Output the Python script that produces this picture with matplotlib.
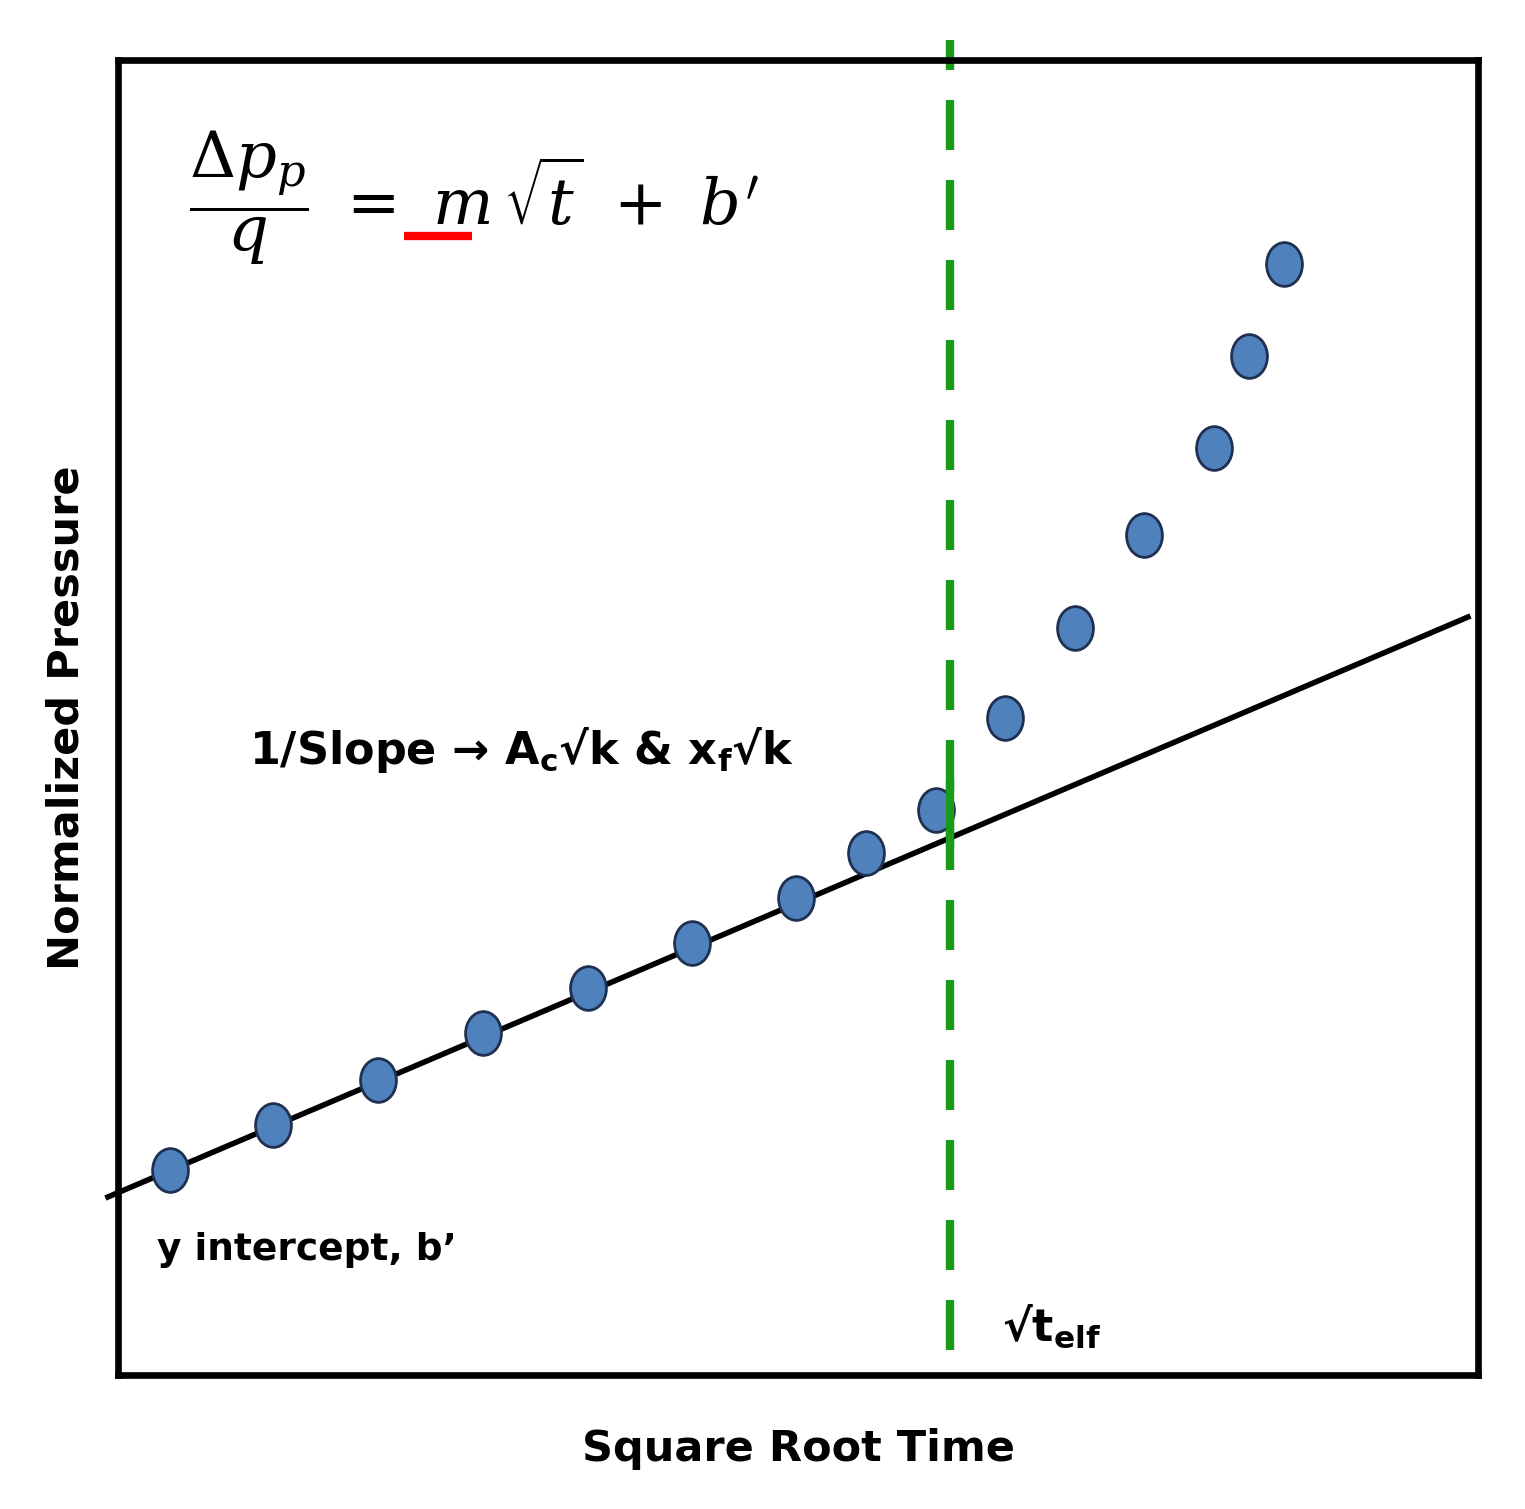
import matplotlib
matplotlib.use("Agg")
import matplotlib.pyplot as plt
from matplotlib.markers import MarkerStyle
from matplotlib.transforms import Affine2D

x_pts = [3.82, 11.40, 19.12, 26.84, 34.56, 42.21, 49.85, 55.0, 60.15, 65.22, 70.37, 75.44, 80.59, 83.16, 85.74]
y_pts = [15.59, 19.01, 22.43, 26.01, 29.43, 32.85, 36.27, 39.70, 42.97, 49.96, 56.81, 63.88, 70.49, 77.49, 84.49]
line_x = [-0.74, 99.26]
line_y = [13.54, 57.64]
t_elf = 61.18

fig = plt.figure(figsize=(15.25, 15.09), dpi=100)
ax = fig.add_axes([118/1525, 1-1375/1509, 1360/1525, 1315/1509])
ax.set_xlim(0, 100)
ax.set_ylim(0, 100)
for s in ax.spines.values():
    s.set_linewidth(4.8)
ax.set_xticks([]); ax.set_yticks([])

ax.plot([t_elf, t_elf], [1.9, 101.5], color="#1a9a1a", lw=6, ls=(0, (6, 3.6)), clip_on=False, zorder=1)
ax.plot(line_x, line_y, color="black", lw=4, clip_on=False, zorder=2)
mk = MarkerStyle("o", transform=Affine2D().scale(0.86, 1.05))
ax.plot(x_pts, y_pts, linestyle="none", marker=mk, ms=30, mfc="#4f81bd", mec="#1f3050", mew=2, zorder=3)
ax.plot([t_elf, t_elf], [40.5, 45], color="#1a9a1a", lw=6, zorder=4)

ax.text(5.2, 89.5, r"$\dfrac{\Delta p_p}{q}\ =\ m\,\sqrt{t}\ +\ b'$", fontsize=46,
        math_fontfamily="dejavuserif", va="center", ha="left")
ax.plot([21, 26], [86.6, 86.6], color="red", lw=6, solid_capstyle="butt")

ax.text(9.6, 47.5, r"1/Slope → A$_\mathregular{c}$√k & x$_\mathregular{f}$√k", fontsize=32,
        fontweight="bold", va="center", ha="left")
ax.text(2.9, 9.5, "y intercept, b’", fontsize=27, fontweight="bold", va="center", ha="left")
ax.text(65, 3.7, r"√t$_\mathregular{elf}$", fontsize=32, fontweight="bold", va="center", ha="left")

ax.set_ylabel("Normalized Pressure", fontsize=31, fontweight="bold", labelpad=22)
ax.set_xlabel("Square Root Time", fontsize=31, fontweight="bold", labelpad=38)

fig.savefig("out.png", dpi=100)
